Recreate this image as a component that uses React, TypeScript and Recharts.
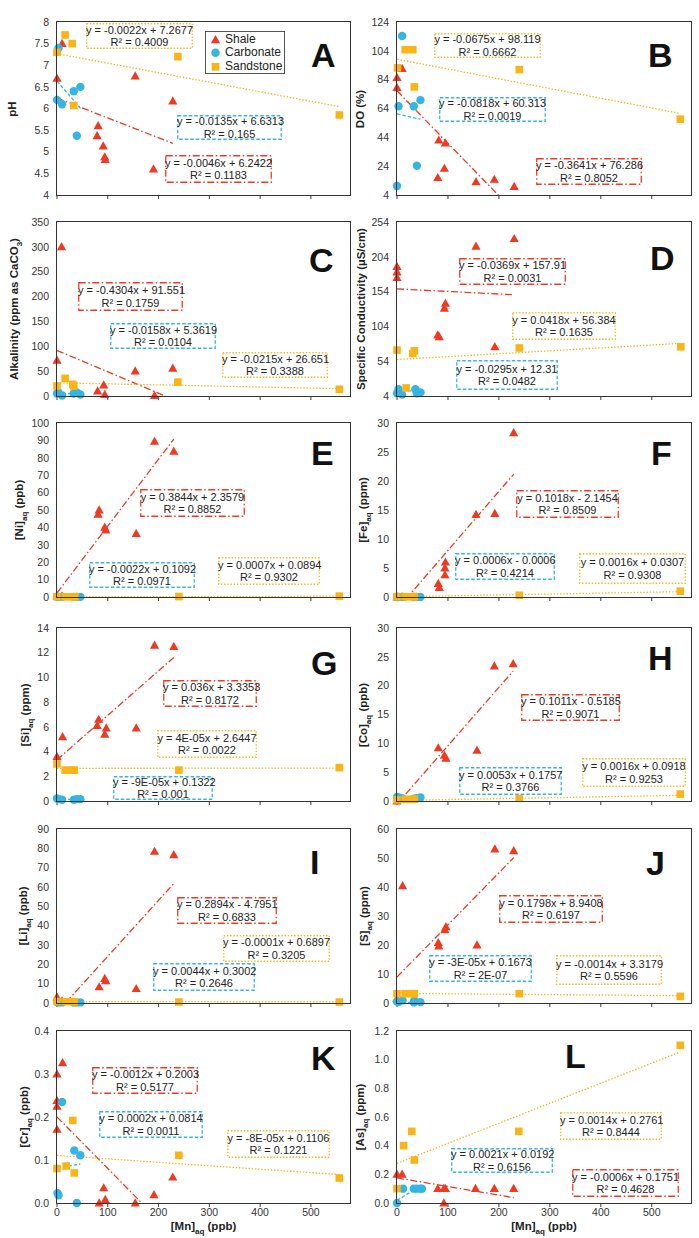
import React from "react";
import { ScatterChart, Scatter, XAxis, YAxis, ReferenceLine, Legend } from "recharts";

type P = [number, number];

const SHALE = "#ee3a23";
const CARB = "#36b5e5";
const SAND = "#fbb416";
const FONT = "'Liberation Sans', Arial, sans-serif";

// x axis: [Mn]aq (ppb)
const mnTicks = [0, 100, 200, 300, 400, 500];
const mnMax = 577;

// A - pH
const phShale: P[] = [[0, 6.7], [10, 7.5], [79, 5.37], [81, 5.6], [91, 5.13], [94, 4.88], [95, 4.82], [154, 6.75], [190, 4.6], [228, 6.17]];
const phCarb: P[] = [[0, 6.2], [3, 7.4], [10, 6.1], [33, 6.4], [39, 5.37], [46, 6.5]];
const phSand: P[] = [[0, 7.3], [16, 7.7], [30, 7.5], [33, 6.07], [238, 7.2], [556, 5.85]];
const phTicks = [4, 4.5, 5, 5.5, 6, 6.5, 7, 7.5, 8];

// B - DO
const doShale: P[] = [[0, 85.5], [0, 78.5], [10, 91.7], [80, 16], [82, 42], [93, 22.4], [95, 40], [155, 13.2], [191, 14.8], [230, 9.8]];
const doCarb: P[] = [[0, 10.2], [3, 65.6], [10, 114.3], [33, 65.6], [39, 24.3], [46, 69.8]];
const doSand: P[] = [[1, 92.2], [16, 104.8], [31, 104.8], [34, 79], [240, 91], [556, 56.6]];
const doTicks = [4, 24, 44, 64, 84, 104, 124];

// C - alkalinity
const alkShale: P[] = [[0, 71.7], [9, 300], [80, 10], [92, 22], [94, 3], [154, 50], [192, 1], [228, 55.6]];
const alkCarb: P[] = [[0, 5], [3, 7], [10, 1], [33, 5], [39, 7], [46, 3]];
const alkSand: P[] = [[0, 20], [16, 35.6], [31, 23.5], [33, 20], [238, 28], [556, 13.5]];
const alkTicks = [0, 50, 100, 150, 200, 250, 300, 350];

// D - specific conductivity
const spcShale: P[] = [[0, 190], [0, 182], [0, 174], [80, 91.5], [83, 89], [93, 130], [95, 137], [155, 219], [192, 74.7], [230, 230]];
const spcCarb: P[] = [[0, 8], [3, 13.6], [10, 6], [36, 13.6], [39, 8], [46, 9]];
const spcSand: P[] = [[0, 70], [18, 15.5], [31, 65], [34, 69], [240, 73], [557, 74.7]];
const spcTicks = [4, 54, 104, 154, 204, 254];

// E - Ni
const niShale: P[] = [[0, 0.5], [10, 0.5], [81, 47.5], [83, 50], [94, 40], [96, 38.5], [156, 36.5], [192, 89.4], [230, 83.7]];
const niCarb: P[] = [[0, 0.1], [3, 0.1], [10, 0.1], [33, 0.1], [39, 0.1], [46, 0.1]];
const niSand: P[] = [[0, 0.2], [16, 0.1], [30, 0.1], [35, 0.1], [240, 0.3], [556, 0.5]];
const niTicks = [0, 10, 20, 30, 40, 50, 60, 70, 80, 90, 100];

// F - Fe
const feShale: P[] = [[0, 0], [10, 0], [81, 2.3], [83, 1.6], [94, 3.8], [94, 5], [95, 6], [155, 14.2], [192, 14.4], [229, 28.3]];
const feCarb: P[] = [[0, 0], [3, 0], [10, 0], [33, 0], [39, 0], [46, 0]];
const feSand: P[] = [[0, 0.05], [16, 0.05], [30, 0.05], [34, 0.05], [240, 0.3], [556, 1.0]];
const feTicks = [0, 5, 10, 15, 20, 25, 30];

// G - Si
const siShale: P[] = [[0, 3.6], [11, 5.2], [79, 6.1], [82, 6.6], [94, 5.4], [97, 5.9], [156, 5.9], [192, 12.6], [230, 12.5]];
const siCarb: P[] = [[0, 0.2], [3, 0.15], [10, 0.1], [33, 0.1], [39, 0.15], [46, 0.15]];
const siSand: P[] = [[0, 3.0], [16, 2.5], [30, 2.5], [34, 2.5], [240, 2.5], [556, 2.7]];
const siTicks = [0, 2, 4, 6, 8, 10, 12, 14];

// H - Co
const coShale: P[] = [[0, 0], [81, 9.2], [93, 7.9], [96, 7.4], [157, 8.8], [191, 23.4], [228, 23.8]];
const coCarb: P[] = [[0, 0.7], [3, 0.6], [10, 0.5], [33, 0.4], [39, 0.5], [46, 0.6]];
const coSand: P[] = [[0, 0.2], [16, 0.3], [30, 0.3], [34, 0.3], [240, 0.5], [556, 1.2]];
const coTicks = [0, 5, 10, 15, 20, 25, 30];

// I - Li
const liShale: P[] = [[0, 3.1], [10, 1], [83, 8.3], [94, 12.6], [96, 11.4], [156, 7.4], [192, 78.4], [230, 76.6]];
const liCarb: P[] = [[0, 0.5], [3, 0.3], [10, 0.3], [33, 0.3], [39, 0.3], [46, 0.3]];
const liSand: P[] = [[0, 0.8], [16, 0.7], [30, 0.7], [34, 0.7], [240, 0.5], [556, 0.5]];
const liTicks = [0, 10, 20, 30, 40, 50, 60, 70, 80, 90];

// J - S
const sShale: P[] = [[0, 1.5], [11, 40.4], [81, 20.8], [82, 19.6], [94, 25.2], [96, 26.3], [157, 20], [192, 53.1], [229, 52.5]];
const sCarb: P[] = [[0, 0.5], [3, 0.3], [11, 0.9], [33, 0.2], [34, 0.9], [46, 0.3]];
const sSand: P[] = [[0, 3.2], [16, 3.2], [30, 3.2], [34, 3.2], [240, 3.2], [556, 2.3]];
const sTicks = [0, 10, 20, 30, 40, 50, 60];

// K - Cr
const crShale: P[] = [[0, 0.3], [0, 0.238], [0, 0.225], [0, 0.171], [11, 0.326], [83, 0], [92, 0.035], [95, 0.008], [154, 0], [191, 0.019], [228, 0.06]];
const crCarb: P[] = [[1, 0.023], [3, 0.018], [10, 0.235], [34, 0.122], [39, 0], [46, 0.111]];
const crSand: P[] = [[0, 0.08], [18, 0.086], [31, 0.192], [34, 0.07], [240, 0.111], [556, 0.058]];
const crTicks = [0, 0.1, 0.2, 0.3, 0.4];

// L - As
const asShale: P[] = [[0, 0.2], [10, 0.2], [80, 0.1], [92, 0.1], [92, 0], [95, 0.1], [154, 0.1], [191, 0.1], [229, 0.1]];
const asCarb: P[] = [[0, 0], [12, 0.1], [33, 0.1], [39, 0.1], [46, 0.1], [49, 0.1]];
const asSand: P[] = [[0, 0.1], [13, 0.4], [29, 0.5], [34, 0.3], [239, 0.5], [556, 1.1]];
const asTicks = [0, 0.2, 0.4, 0.6, 0.8, 1.0, 1.2];

// trendline labels (shale, carbonate, sandstone)
const phEq = ["y = -0.0046x + 6.2422", "y = -0.0135x + 6.6313", "y = -0.0022x + 7.2677"];
const phR2 = ["R² = 0.1183", "R² = 0.165", "R² = 0.4009"];
const doEq = ["y = -0.3641x + 76.286", "y = -0.0818x + 60.313", "y = -0.0675x + 98.119"];
const doR2 = ["R² = 0.8052", "R² = 0.0019", "R² = 0.6662"];
const alkEq = ["y = -0.4304x + 91.551", "y = -0.0158x + 5.3619", "y = -0.0215x + 26.651"];
const alkR2 = ["R² = 0.1759", "R² = 0.0104", "R² = 0.3388"];
const spcEq = ["y = -0.0369x + 157.91", "y = -0.0295x + 12.31", "y = 0.0418x + 56.384"];
const spcR2 = ["R² = 0.0031", "R² = 0.0482", "R² = 0.1635"];
const niEq = ["y = 0.3844x + 2.3579", "y = -0.0022x + 0.1092", "y = 0.0007x + 0.0894"];
const niR2 = ["R² = 0.8852", "R² = 0.0971", "R² = 0.9302"];
const feEq = ["y = 0.1018x - 2.1454", "y = 0.0006x - 0.0006", "y = 0.0016x + 0.0307"];
const feR2 = ["R² = 0.8509", "R² = 0.4214", "R² = 0.9308"];
const siEq = ["y = 0.036x + 3.3353", "y = -9E-05x + 0.1322", "y = 4E-05x + 2.6447"];
const siR2 = ["R² = 0.8172", "R² = 0.001", "R² = 0.0022"];
const coEq = ["y = 0.1011x - 0.5185", "y = 0.0053x + 0.1757", "y = 0.0016x + 0.0918"];
const coR2 = ["R² = 0.9071", "R² = 0.3766", "R² = 0.9253"];
const liEq = ["y = 0.2894x - 4.7951", "y = 0.0044x + 0.3002", "y = -0.0001x + 0.6897"];
const liR2 = ["R² = 0.6833", "R² = 0.2646", "R² = 0.3205"];
const sEq = ["y = 0.1798x + 8.9408", "y = -3E-05x + 0.1673", "y = -0.0014x + 3.3179"];
const sR2 = ["R² = 0.6197", "R² = 2E-07", "R² = 0.5596"];
const crEq = ["y = -0.0012x + 0.2003", "y = 0.0002x + 0.0814", "y = -8E-05x + 0.1106"];
const crR2 = ["R² = 0.5177", "R² = 0.0011", "R² = 0.1221"];
const asEq = ["y = -0.0006x + 0.1751", "y = 0.0021x + 0.0192", "y = 0.0014x + 0.2761"];
const asR2 = ["R² = 0.4628", "R² = 0.6156", "R² = 0.8444"];

type Box = [number, number, number, number];

type Panel = {
  letter: string;
  col: number;
  row: number;
  title: React.ReactNode;
  titleX: number;
  yDomain: [number, number];
  yTicks: number[];
  yFmt?: (v: number) => string;
  series: P[][];
  eqs: string[];
  r2s: string[];
  boxes: Box[];
  letterAt: [number, number];
};

const aq = <sub style={{ fontSize: 8 }}>aq</sub>;
const fix1 = (v: number) => v.toFixed(1);

const panels: Panel[] = [
  { letter: "A", col: 0, row: 0, title: "pH", titleX: 12, yDomain: [4, 8], yTicks: phTicks, series: [phShale, phCarb, phSand], eqs: phEq, r2s: phR2, boxes: [[165, 155, 107, 28], [177, 115, 105, 25], [86, 23, 107, 26]], letterAt: [311, 67] },
  { letter: "B", col: 1, row: 0, title: "DO (%)", titleX: 360, yDomain: [4, 124], yTicks: doTicks, series: [doShale, doCarb, doSand], eqs: doEq, r2s: doR2, boxes: [[536, 158, 106, 27], [439, 97, 107, 25], [434, 33, 107, 25]], letterAt: [648, 67] },
  { letter: "C", col: 0, row: 1, title: <>Alkalinity (ppm as CaCO<sub style={{ fontSize: 8 }}>3</sub>)</>, titleX: 17, yDomain: [0, 350], yTicks: alkTicks, series: [alkShale, alkCarb, alkSand], eqs: alkEq, r2s: alkR2, boxes: [[78, 282, 105, 29], [110, 323, 106, 26], [222, 352, 106, 26]], letterAt: [309, 272] },
  { letter: "D", col: 1, row: 1, title: "Specific Conductivity (µS/cm)", titleX: 361, yDomain: [4, 254], yTicks: spcTicks, series: [spcShale, spcCarb, spcSand], eqs: spcEq, r2s: spcR2, boxes: [[459, 258, 107, 27], [456, 360, 102, 30], [512, 312, 104, 28]], letterAt: [650, 270] },
  { letter: "E", col: 0, row: 2, title: <>[Ni]{aq} (ppb)</>, titleX: 22, yDomain: [0, 100], yTicks: niTicks, series: [niShale, niCarb, niSand], eqs: niEq, r2s: niR2, boxes: [[140, 489, 105, 28], [89, 562, 106, 26], [218, 557, 102, 28]], letterAt: [311, 465] },
  { letter: "F", col: 1, row: 2, title: <>[Fe]{aq} (ppm)</>, titleX: 366, yDomain: [0, 30], yTicks: feTicks, series: [feShale, feCarb, feSand], eqs: feEq, r2s: feR2, boxes: [[516, 490, 103, 28], [455, 553, 100, 27], [579, 553, 107, 31]], letterAt: [651, 465] },
  { letter: "G", col: 0, row: 3, title: <>[Si]{aq} (ppm)</>, titleX: 28, yDomain: [0, 14], yTicks: siTicks, series: [siShale, siCarb, siSand], eqs: siEq, r2s: siR2, boxes: [[163, 680, 94, 27], [113, 776, 100, 24], [157, 730, 100, 28]], letterAt: [311, 675] },
  { letter: "H", col: 1, row: 3, title: <>[Co]{aq} (ppb)</>, titleX: 366, yDomain: [0, 30], yTicks: coTicks, series: [coShale, coCarb, coSand], eqs: coEq, r2s: coR2, boxes: [[521, 694, 99, 27], [459, 767, 103, 28], [582, 758, 104, 29]], letterAt: [648, 670] },
  { letter: "I", col: 0, row: 4, title: <>[Li]{aq} (ppb)</>, titleX: 26, yDomain: [0, 90], yTicks: liTicks, series: [liShale, liCarb, liSand], eqs: liEq, r2s: liR2, boxes: [[177, 897, 100, 27], [153, 963, 102, 28], [223, 935, 107, 27]], letterAt: [310, 874] },
  { letter: "J", col: 1, row: 4, title: <>[S]{aq} (ppm)</>, titleX: 367, yDomain: [0, 60], yTicks: sTicks, series: [sShale, sCarb, sSand], eqs: sEq, r2s: sR2, boxes: [[499, 895, 104, 28], [429, 955, 103, 27], [556, 955, 106, 30]], letterAt: [646, 875] },
  { letter: "K", col: 0, row: 5, title: <>[Cr]{aq} (ppb)</>, titleX: 27, yDomain: [0, 0.4], yTicks: crTicks, yFmt: fix1, series: [crShale, crCarb, crSand], eqs: crEq, r2s: crR2, boxes: [[92, 1067, 106, 27], [99, 1111, 104, 27], [227, 1130, 103, 28]], letterAt: [311, 1070] },
  { letter: "L", col: 1, row: 5, title: <>[As]{aq} (ppm)</>, titleX: 363, yDomain: [0, 1.2], yTicks: asTicks, yFmt: fix1, series: [asShale, asCarb, asSand], eqs: asEq, r2s: asR2, boxes: [[572, 1169, 107, 28], [451, 1148, 102, 25], [560, 1112, 102, 28]], letterAt: [565, 1068] },
];

const rowTop = [22, 222, 423, 628, 829, 1031];
const rowH = [173, 174, 174, 173, 174, 172];
const colX = [57, 397];
const colW = [293, 294];

const colors = [SHALE, CARB, SAND];
const names = ["Shale", "Carbonate", "Sandstone"];
const dashes = ["7 2.5 1.5 2.5", "3.5 2", "1.4 1.8"];

// slope / intercept straight from the Excel label text
const parseFit = (eq: string): [number, number] => {
  const m = eq.match(/y = (\S+)x ([+-]) (\S+)/);
  if (!m) return [0, 0];
  return [parseFloat(m[1]), parseFloat(m[3]) * (m[2] === "-" ? -1 : 1)];
};

const trend = (pts: P[], eq: string) => {
  const [m, b] = parseFit(eq);
  const xs = pts.map((p) => p[0]);
  const x0 = Math.min(...xs);
  const x1 = Math.max(...xs);
  return [{ x: x0, y: m * x0 + b }, { x: x1, y: m * x1 + b }];
};

const Tri = (props: any) => {
  const { cx, cy } = props;
  return <polygon points={`${cx},${cy - 4.8} ${cx - 4.6},${cy + 3.4} ${cx + 4.6},${cy + 3.4}`} fill={SHALE} />;
};
const Dot = (props: any) => <circle cx={props.cx} cy={props.cy} r={4.2} fill={CARB} />;
const Sq = (props: any) => <rect x={props.cx - 3.8} y={props.cy - 3.8} width={7.6} height={7.6} fill={SAND} />;
const shapes = [Tri, Dot, Sq];

// legend box drawn in Excel style (fixed order)
const LegendBox = () => (
  <div
    style={{
      width: 80, height: 43, border: "1.5px solid #555", boxSizing: "border-box", background: "#fff",
      padding: "1px 0 0 4px", fontSize: 12, lineHeight: "13.3px", color: "#222", fontFamily: FONT,
    }}
  >
    {names.map((n, i) => (
      <div key={n} style={{ display: "flex", alignItems: "center", whiteSpace: "nowrap" }}>
        <svg width={11} height={11} style={{ marginRight: 4 }}>
          {shapes[i]({ cx: 5.5, cy: 5.8 })}
        </svg>
        {n}
      </div>
    ))}
  </div>
);

function EqBox({ box, color, dash, eq, r2 }: { box: Box; color: string; dash: string; eq: string; r2: string }) {
  const [x, y, w, h] = box;
  return (
    <div
      style={{
        position: "absolute", left: x, top: y, width: w, height: h,
        background: "rgba(255,255,255,0.85)", fontSize: 11, lineHeight: "12.5px", color: "#222",
        textAlign: "center", display: "flex", flexDirection: "column", justifyContent: "center", whiteSpace: "nowrap",
      }}
    >
      <svg width={w} height={h} style={{ position: "absolute", left: 0, top: 0 }}>
        <rect x={0.75} y={0.75} width={w - 1.5} height={h - 1.5} fill="none" stroke={color} strokeWidth={1.3} strokeDasharray={dash} />
      </svg>
      <div style={{ position: "relative" }}>{eq}</div>
      <div style={{ position: "relative" }}>{r2}</div>
    </div>
  );
}

function PanelView({ p }: { p: Panel }) {
  const px = colX[p.col];
  const pw = colW[p.col];
  const top = rowTop[p.row];
  const ph = rowH[p.row];
  const bottomRow = p.row === 5;
  const W = pw + 56;
  const H = ph + 40;
  const tickStyle = { fontSize: 10.5, fill: "#333", fontFamily: FONT };

  return (
    <>
      <div style={{ position: "absolute", left: px - 50, top: top - 8 }}>
        <ScatterChart width={W} height={H} margin={{ top: 8, right: 6, bottom: 0, left: 0 }}>
          <XAxis
            type="number" dataKey="x" domain={[0, mnMax]} ticks={mnTicks} interval={0}
            axisLine={false} tickSize={4} tickLine={{ stroke: "#3b3b3b" }} height={32}
            tick={tickStyle} tickFormatter={(v: number) => (bottomRow ? String(v) : "")}
          />
          <YAxis
            type="number" dataKey="y" domain={p.yDomain} ticks={p.yTicks} interval={0} width={50}
            axisLine={false} tickLine={false} tick={tickStyle}
            tickFormatter={(v: number) => (p.yFmt ? p.yFmt(v) : String(v))}
          />
          {p.series.map((pts, i) => (
            <ReferenceLine
              key={"t" + i}
              segment={trend(pts, p.eqs[i])}
              ifOverflow="hidden"
              stroke={colors[i]}
              strokeWidth={1.3}
              strokeDasharray={dashes[i]}
            />
          ))}
          {p.series.map((pts, i) => (
            <Scatter
              key={"s" + i}
              name={names[i]}
              data={pts.map(([x, y]) => ({ x, y }))}
              fill={colors[i]}
              shape={shapes[i]}
              isAnimationActive={false}
            />
          ))}
          {p.letter === "A" && (
            <Legend
              layout="vertical" align="center" verticalAlign="middle"
              content={() => <LegendBox />}
              wrapperStyle={{ left: 205 - (px - 50), top: 31 - (top - 8), width: 80, height: 43 }}
            />
          )}
        </ScatterChart>
      </div>
      <div
        style={{
          position: "absolute", left: px - 0.9, top: top - 0.9, width: pw + 1.8, height: ph + 1.8,
          border: "1.8px solid #333", boxSizing: "border-box", pointerEvents: "none",
        }}
      />
      <div
        style={{
          position: "absolute", left: p.titleX, top: top + ph / 2, transform: "translate(-50%, -50%) rotate(-90deg)",
          fontSize: 11.5, fontWeight: "bold", whiteSpace: "nowrap", color: "#222", lineHeight: "13px",
        }}
      >
        {p.title}
      </div>
      {p.boxes.map((b, i) => (
        <EqBox key={"b" + i} box={b} color={colors[i]} dash={dashes[i]} eq={p.eqs[i]} r2={p.r2s[i]} />
      ))}
      <div
        style={{
          position: "absolute", left: p.letterAt[0], top: p.letterAt[1] - 28.8,
          fontSize: 34, lineHeight: "34px", fontWeight: "bold", color: "#111",
        }}
      >
        {p.letter}
      </div>
      {bottomRow && (
        <div
          style={{
            position: "absolute", left: px + pw / 2, top: 1229, transform: "translate(-50%, -50%)",
            fontSize: 11.5, fontWeight: "bold", whiteSpace: "nowrap", color: "#222", lineHeight: "13px",
          }}
        >
          [Mn]{aq} (ppb)
        </div>
      )}
    </>
  );
}

export default function App() {
  return (
    <div style={{ position: "absolute", left: 0, top: 0, width: 699, height: 1238, background: "#fff", fontFamily: FONT, overflow: "hidden" }}>
      {panels.map((p) => (
        <PanelView key={p.letter} p={p} />
      ))}
    </div>
  );
}
